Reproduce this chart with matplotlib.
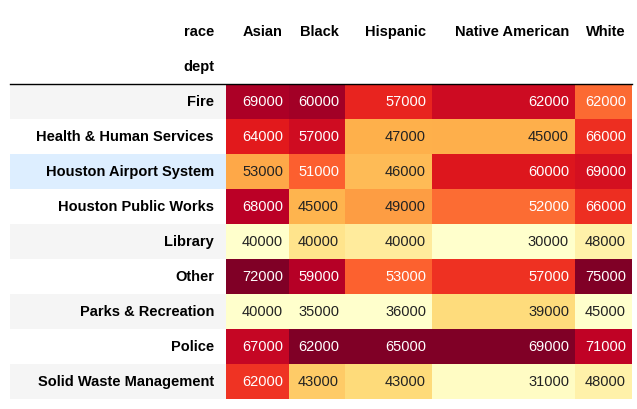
import matplotlib
matplotlib.use("Agg")
import matplotlib.pyplot as plt
import numpy as np
from matplotlib.patches import Rectangle

depts = ["Fire", "Health & Human Services", "Houston Airport System", "Houston Public Works",
         "Library", "Other", "Parks & Recreation", "Police", "Solid Waste Management"]
races = ["Asian", "Black", "Hispanic", "Native American", "White"]
asian = [69000, 64000, 53000, 68000, 40000, 72000, 40000, 67000, 62000]
black = [60000, 57000, 51000, 45000, 40000, 59000, 35000, 62000, 43000]
hispanic = [57000, 47000, 46000, 49000, 40000, 53000, 36000, 65000, 43000]
native = [62000, 45000, 60000, 52000, 30000, 57000, 39000, 69000, 31000]
white = [62000, 66000, 69000, 66000, 48000, 75000, 45000, 71000, 48000]
cols = [asian, black, hispanic, native, white]

plt.rcParams['font.family'] = ['Liberation Sans', 'DejaVu Sans']
cmap = plt.get_cmap("YlOrRd")

fig = plt.figure(figsize=(6.37, 4.10), dpi=100)
ax = fig.add_axes([0, 0, 1, 1])
ax.set_xlim(0, 637); ax.set_ylim(410, 0); ax.axis("off")

edges = [226, 289, 345, 432, 575, 632]
top, rh = 85, 35
fs = 10.5

# header
ax.text(214, 32, "race", ha="right", va="center", fontsize=fs, weight="bold")
ax.text(214, 67, "dept", ha="right", va="center", fontsize=fs, weight="bold")
for j, r in enumerate(races):
    ax.text(edges[j + 1] - 6, 32, r, ha="right", va="center", fontsize=fs, weight="bold")
ax.plot([10, 632], [top, top], color="black", lw=1)


def lum(c):
    def f(x):
        return x / 12.92 if x <= 0.04045 else ((x + 0.055) / 1.055) ** 2.4
    return 0.2126 * f(c[0]) + 0.7152 * f(c[1]) + 0.0722 * f(c[2])


for i, d in enumerate(depts):
    y0 = top + i * rh
    bg = "#f5f5f5" if i % 2 == 0 else "white"
    if d == "Houston Airport System":
        bg = "#ddeeff"
    ax.add_patch(Rectangle((10, y0), edges[0] - 10, rh, color=bg, lw=0))
    ax.text(214, y0 + rh / 2, d, ha="right", va="center", fontsize=fs, weight="bold")
    for j, col in enumerate(cols):
        v = col[i]
        t = (v - min(col)) / (max(col) - min(col))
        c = cmap(t)
        ax.add_patch(Rectangle((edges[j], y0), edges[j + 1] - edges[j], rh, color=c, lw=0))
        tc = "white" if lum(c) < 0.408 else "#222222"
        ax.text(edges[j + 1] - 6, y0 + rh / 2, str(v), ha="right", va="center",
                fontsize=fs, color=tc)

fig.savefig("out.png", dpi=100)
